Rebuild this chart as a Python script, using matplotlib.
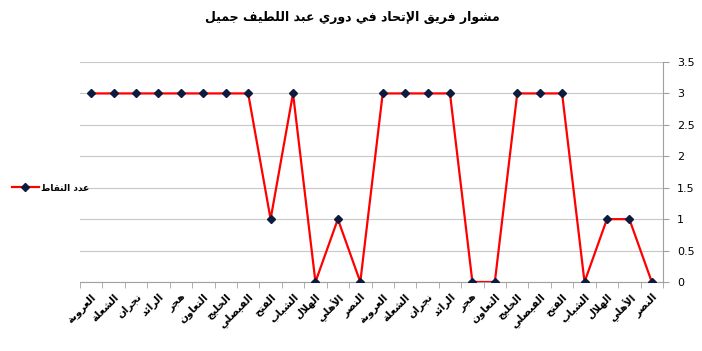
import matplotlib
matplotlib.use("Agg")
import matplotlib.pyplot as plt
import numpy as np

# ---- data ----
teams = ["العروبة", "الشعلة", "نجران", "الرائد", "هجر", "التعاون", "الخليج",
         "الفيصلي", "الفتح", "الشباب", "الهلال", "الأهلي", "النصر"]
rounds = teams + teams
points = [3, 3, 3, 3, 3, 3, 3, 3, 1, 3, 0, 1, 0,
          3, 3, 3, 3, 0, 0, 3, 3, 3, 0, 1, 1, 0]
title = "مشوار فريق الإتحاد في دوري عبد اللطيف جميل"
series_name = "عدد النقاط"
y_ticks = [0, 0.5, 1, 1.5, 2, 2.5, 3, 3.5]

# ---- minimal arabic shaping (matplotlib has no bidi / shaping) ----
DUAL = {"ب": 0xFE8F, "ت": 0xFE95, "ج": 0xFE9D, "ح": 0xFEA1, "خ": 0xFEA5,
        "ش": 0xFEB5, "ص": 0xFEB9, "ط": 0xFEC1, "ع": 0xFEC9, "ف": 0xFED1,
        "ق": 0xFED5, "ل": 0xFEDD, "م": 0xFEE1, "ن": 0xFEE5, "ه": 0xFEE9,
        "ي": 0xFEF1, "ئ": 0xFE89}
RIGHT = {"ا": 0xFE8D, "أ": 0xFE83, "إ": 0xFE87, "ة": 0xFE93, "د": 0xFEA9,
         "ر": 0xFEAD, "و": 0xFEED}
LAMALEF = {"آ": 0xFEF5, "أ": 0xFEF7, "إ": 0xFEF9, "ا": 0xFEFB}


def shape(text):
    out = []
    chars = list(text)
    i = 0
    while i < len(chars):
        c = chars[i]
        prev = chars[i - 1] if i > 0 else ""
        joins_prev = prev in DUAL and i > 0
        if c == "ل" and i + 1 < len(chars) and chars[i + 1] in LAMALEF:
            base = LAMALEF[chars[i + 1]]
            out.append(chr(base + 1 if joins_prev else base))
            i += 2
            continue
        nxt = chars[i + 1] if i + 1 < len(chars) else ""
        if c in DUAL:
            joins_next = nxt in DUAL or nxt in RIGHT
            b = DUAL[c]
            if joins_prev and joins_next:
                out.append(chr(b + 3))
            elif joins_next:
                out.append(chr(b + 2))
            elif joins_prev:
                out.append(chr(b + 1))
            else:
                out.append(chr(b))
        elif c in RIGHT:
            b = RIGHT[c]
            out.append(chr(b + 1 if joins_prev else b))
        else:
            out.append(c)
        i += 1
    return "".join(reversed(out))


plt.rcParams["font.family"] = ["DejaVu Sans"]

fig = plt.figure(figsize=(7.02, 3.51), dpi=100)
ax = fig.add_axes([80 / 702, 69 / 351, 583 / 702, 220 / 351])

x = np.arange(len(points))
ax.plot(x, points, color="#ff0000", lw=1.6, marker="D", markersize=4.5,
        markerfacecolor="#0d1b3e", markeredgecolor="#0d1b3e",
        label=shape(series_name), zorder=3)

ax.set_xlim(-0.5, len(points) - 0.5)
ax.set_ylim(0, 3.5)
ax.set_yticks(y_ticks)
ax.set_yticklabels([f"{v:g}" for v in y_ticks], fontsize=8)
ax.yaxis.tick_right()
ax.tick_params(axis="y", length=4, color="#a0a0a0", pad=6)
ax.grid(axis="y", color="#c8c8c8", lw=0.8)
ax.set_axisbelow(True)

ax.set_xticks(x)
ax.set_xticklabels([shape(t) for t in rounds], rotation=45, ha="right",
                   va="top", rotation_mode="anchor", fontsize=7.5,
                   fontweight="bold")
ax.tick_params(axis="x", length=0, pad=7)
ax.set_xticks(np.arange(-0.5, len(points), 1), minor=True)
ax.tick_params(axis="x", which="minor", length=4, color="#a0a0a0")

for s in ["top", "left"]:
    ax.spines[s].set_visible(False)
for s in ["bottom", "right"]:
    ax.spines[s].set_color("#a0a0a0")

fig.text(352 / 702, 1 - 17 / 351, shape(title), ha="center", va="center",
         fontsize=9, fontweight="bold")

fig.legend(loc="center left", bbox_to_anchor=(0.005, 1 - 188 / 351),
           frameon=False, handlelength=3.0, handletextpad=0.3,
           prop={"weight": "bold", "size": 6.5})

fig.savefig("out.png", dpi=100)
